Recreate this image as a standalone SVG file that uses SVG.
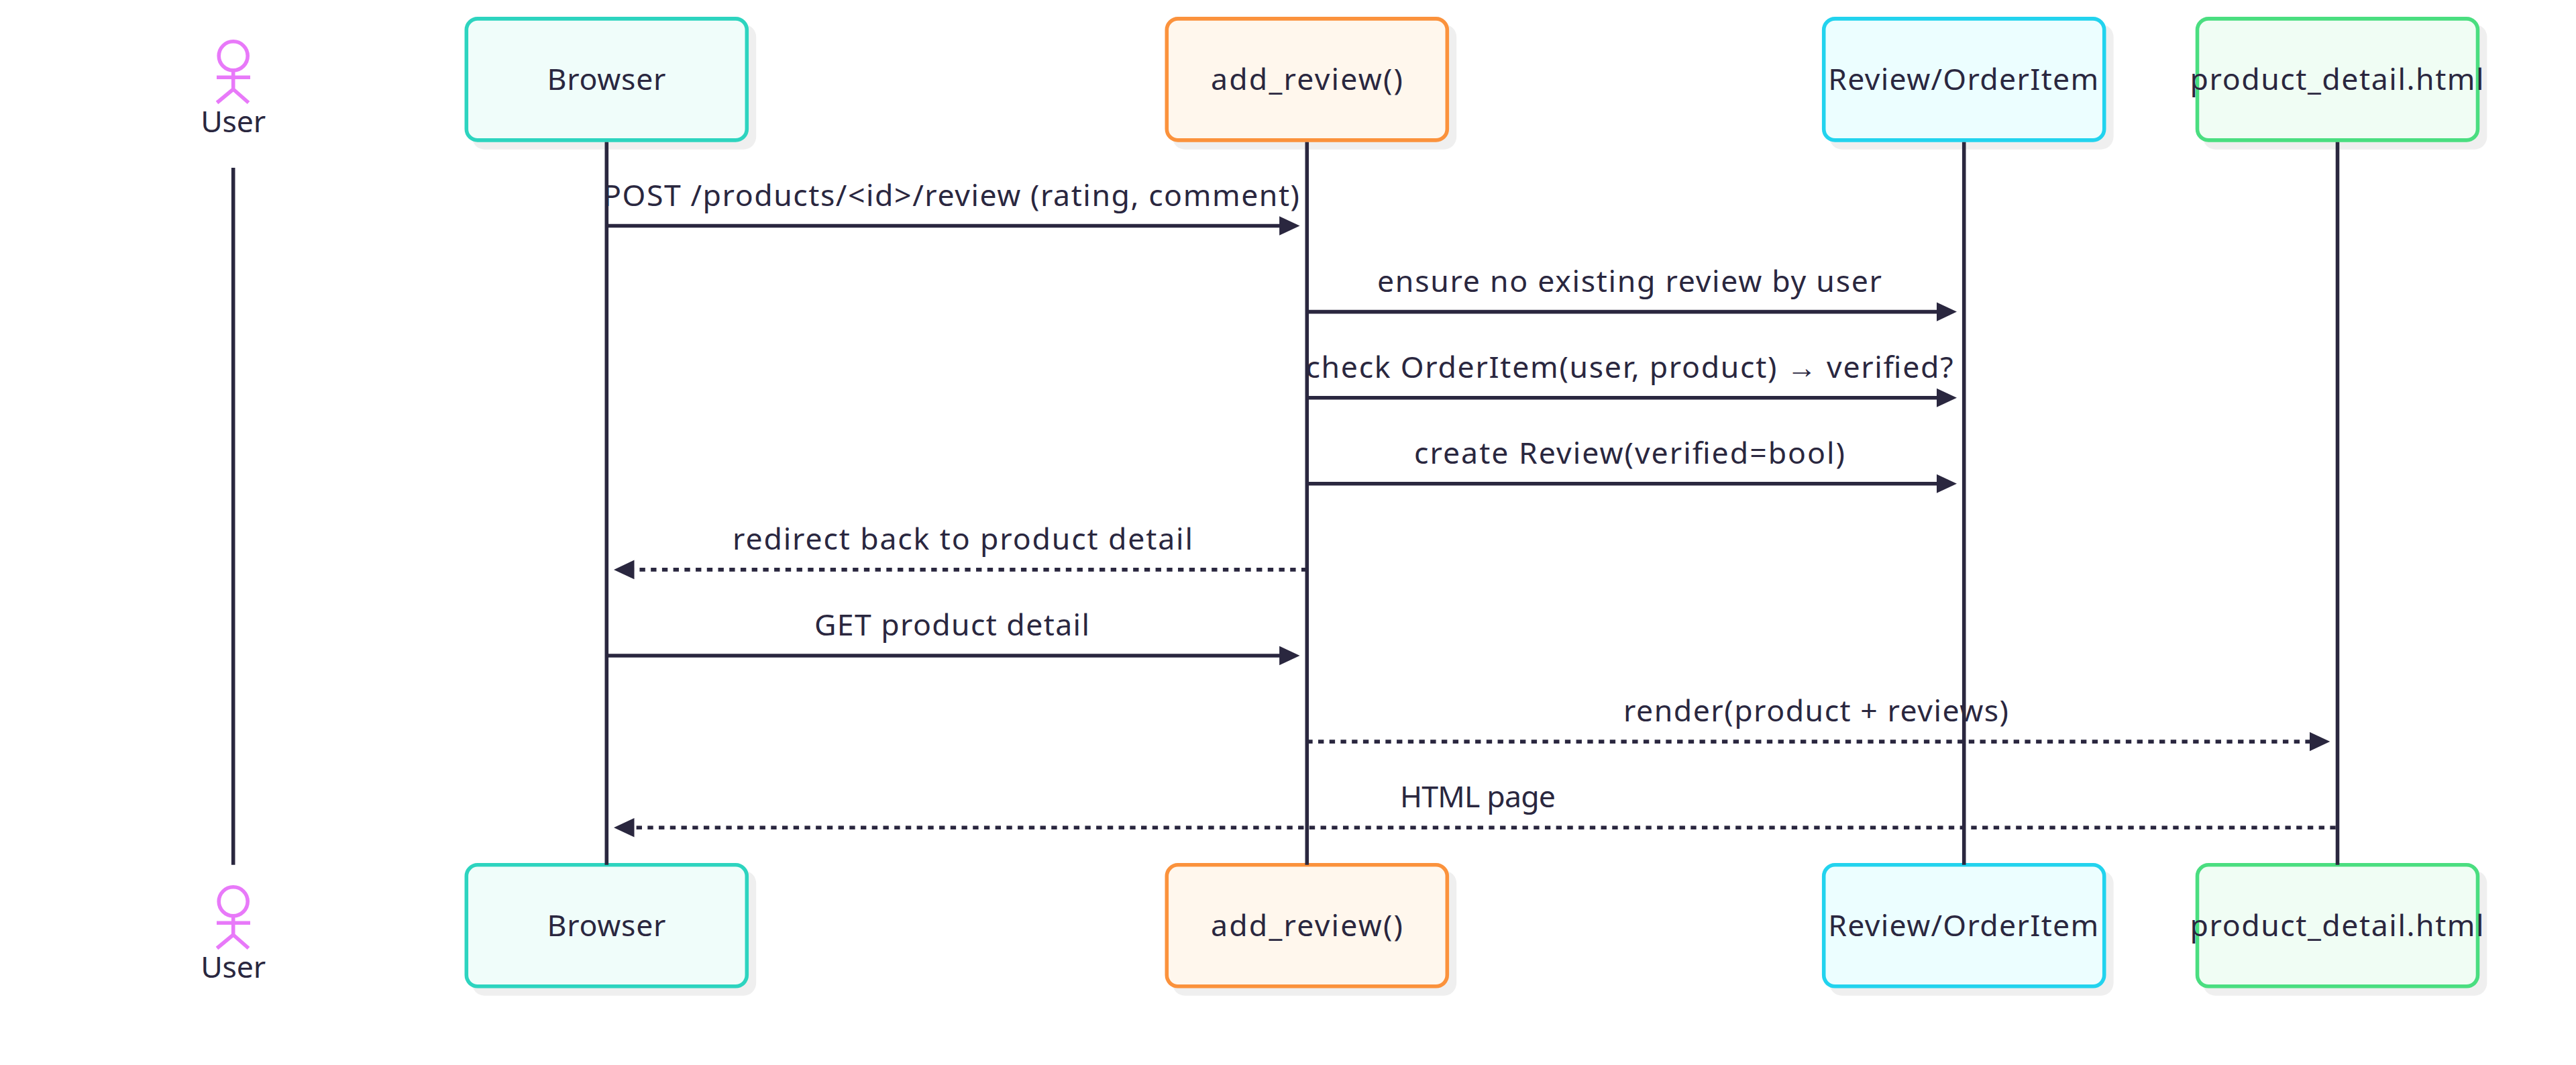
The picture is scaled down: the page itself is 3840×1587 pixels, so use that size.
<svg xmlns="http://www.w3.org/2000/svg" width="3840" height="1587" viewBox="0 0 3840 1587">
<defs>
<marker id="arr" markerUnits="userSpaceOnUse" markerWidth="31" markerHeight="30" refX="10.5" refY="14.5" orient="auto-start-reverse"><path d="M0 0.2L30.5 14.5L0 28.8Z" fill="#2a273f"/></marker>
<g id="stick"><circle class="actor" cx="347.7" cy="83.3" r="21.5"/><path class="actor" d="M347.7 104.8V133M323 115.3H373M347.7 133L323.5 153M347.7 133L370.5 153"/></g>
</defs>
<style>
text{font-family:"Noto Sans","DejaVu Sans",sans-serif;font-size:44.6px;fill:#2a273f;text-anchor:middle}
rect.box{stroke-width:5.57}
rect.shadow{fill:#efefef}
.life{stroke:#2a273f;stroke-width:5.57;fill:none}
.msg{stroke:#2a273f;stroke-width:5.57;fill:none;marker-end:url(#arr)}
.dot{stroke-dasharray:8.36 8.36}
.actor{stroke:#e879f9;stroke-width:5.57;fill:none}
.thin{font-family:"Liberation Sans",sans-serif}
.c-b{fill:#f0fdfa;stroke:#2dd4bf}.c-a{fill:#fff7ed;stroke:#fb923c}.c-r{fill:#ecfeff;stroke:#22d3ee}.c-p{fill:#f0fdf4;stroke:#4ade80}
</style>
<rect width="3840" height="1587" fill="#fff"/>
<g id="actor-user-bottom"><use href="#stick" y="1260"/><text x="347.7" y="1457" textLength="97">User</text></g>
<g id="node-browser-bottom"><rect class="shadow" x="703.6" y="1297.2" width="423.6" height="186.6" rx="19"/><rect class="box c-b" x="695.3" y="1288.8" width="418" height="181" rx="16.7"/><text x="904" y="1395" textLength="177">Browser</text></g>
<g id="node-add-review-bottom"><rect class="shadow" x="1747.6" y="1297.2" width="423.6" height="186.6" rx="19"/><rect class="box c-a" x="1739.3" y="1288.8" width="418" height="181" rx="16.7"/><text x="1948" y="1395" textLength="286">add_review()</text></g>
<g id="node-review-bottom"><rect class="shadow" x="2727" y="1297.2" width="423.6" height="186.6" rx="19"/><rect class="box c-r" x="2718.7" y="1288.8" width="418" height="181" rx="16.7"/><text x="2926.7" y="1395" textLength="403">Review/OrderItem</text></g>
<g id="node-product-bottom"><rect class="shadow" x="3283.8" y="1297.2" width="423.6" height="186.6" rx="19"/><rect class="box c-p" x="3275.5" y="1288.8" width="418" height="181" rx="16.7"/><text x="3483.6" y="1395" textLength="438">product_detail.html</text></g>
<g id="actor-user-top"><use href="#stick"/><text x="347.7" y="197" textLength="97">User</text></g>
<g id="node-browser-top"><rect class="shadow" x="703.6" y="36.2" width="423.6" height="186.6" rx="19"/><rect class="box c-b" x="695.3" y="27.9" width="418" height="181" rx="16.7"/><text x="904" y="134" textLength="177">Browser</text></g>
<g id="node-add-review-top"><rect class="shadow" x="1747.6" y="36.2" width="423.6" height="186.6" rx="19"/><rect class="box c-a" x="1739.3" y="27.9" width="418" height="181" rx="16.7"/><text x="1948" y="134" textLength="286">add_review()</text></g>
<g id="node-review-top"><rect class="shadow" x="2727" y="36.2" width="423.6" height="186.6" rx="19"/><rect class="box c-r" x="2718.7" y="27.9" width="418" height="181" rx="16.7"/><text x="2926.7" y="134" textLength="403">Review/OrderItem</text></g>
<g id="node-product-top"><rect class="shadow" x="3283.8" y="36.2" width="423.6" height="186.6" rx="19"/><rect class="box c-p" x="3275.5" y="27.9" width="418" height="181" rx="16.7"/><text x="3483.6" y="134" textLength="438">product_detail.html</text></g>
<g id="connectors">
<path class="life" d="M347.7 250V1288.7M904.3 211.7V1288.7M1948.3 211.7V1288.7M2927.7 211.7V1288.7M3484.5 211.7V1288.7"/>
<path class="msg" d="M904.3 336.5H1917.6"/>
<path class="msg" d="M1948.3 464.6H2897"/>
<path class="msg" d="M1948.3 592.7H2897"/>
<path class="msg" d="M1948.3 720.8H2897"/>
<path class="msg dot" d="M1948.3 848.9H935"/>
<path class="msg" d="M904.3 977H1917.6"/>
<path class="msg dot" d="M1948.3 1105.1H3453.3"/>
<path class="msg dot" d="M3481.7 1233.2H935"/>
</g>
<g id="labels">
<text x="1418" y="306.5" textLength="1038">POST /products/&lt;id&gt;/review (rating, comment)</text>
<text x="2429" y="434.6" textLength="752">ensure no existing review by user</text>
<text x="2429" y="562.7" textLength="965">check OrderItem(user, product) <tspan class="thin">→</tspan> verified?</text>
<text x="2429" y="690.8" textLength="642">create Review(verified=bool)</text>
<text x="1435" y="818.9" textLength="686">redirect back to product detail</text>
<text x="1419" y="947" textLength="410">GET product detail</text>
<text x="2707" y="1075.1" textLength="574">render(product + reviews)</text>
<text x="2203" y="1203.2" textLength="232">HTML page</text>
</g>
</svg>
